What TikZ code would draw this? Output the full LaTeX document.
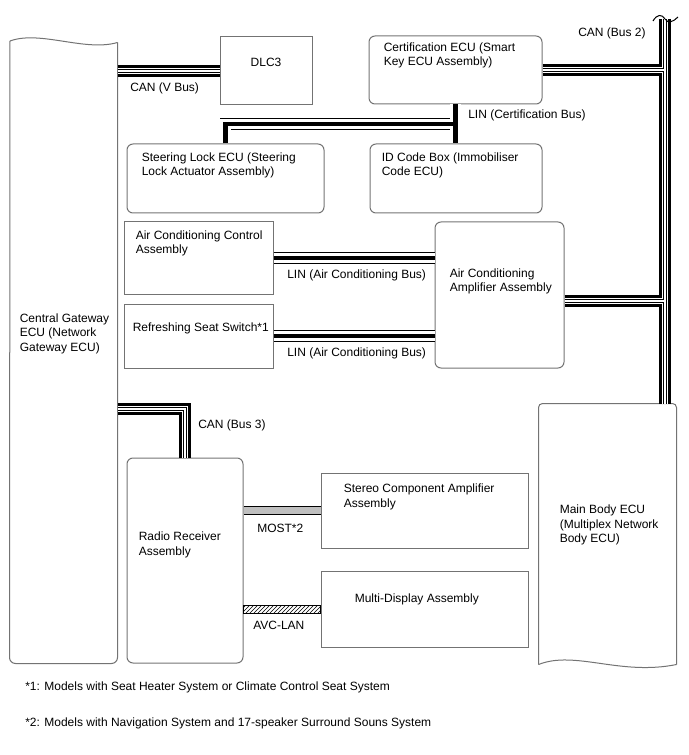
\documentclass[tikz,border=0pt]{standalone}
\usepackage{fontspec}
\setmainfont{Liberation Sans}
\usetikzlibrary{patterns}

\def\px{0.75pt}

\begin{document}
\begin{tikzpicture}[
x=\px, y=-\px,
ecu/.style={draw=black!55, line width=\px},
box/.style 2 args={ecu, minimum width=#1*\px, minimum height=#2*\px, inner sep=0},
rbox/.style 2 args={box={#1}{#2}, rounded corners=6*\px},
txt/.style={font=\fontsize{9pt}{10.9pt}\selectfont, inner sep=0, align=left},
lbl/.style={txt, anchor=west},
canbus/.style={draw=white, line width=2.3*\px,
	preaction={draw=black, line width=12.5*\px},
	preaction={draw=white, line width=5.7*\px},
	preaction={draw=black, line width=3.7*\px}},
linbus/.style={draw=black, line width=4.5*\px,
	preaction={draw=black, line width=11.5*\px},
	preaction={draw=white, line width=10.1*\px}},
most/.style={draw=black!25, line width=6.5*\px,
	preaction={draw=black, line width=9*\px}},
avc/.style={draw=black, line width=\px, pattern=north east lines}
]

\useasboundingbox (0,0) rectangle (688,755);

%%% ECUs
\node[box={107}{620}, draw=none] (cgw) at (63.5,353) {};
\draw[ecu, rounded corners=6*\px] (10,41) -- (cgw.south west) -- (cgw.south east) -- (cgw.north east);
\draw[ecu] (10,41) .. controls (40,30) and (85,52) .. (cgw.north east);
\node[txt, anchor=north west] (cgwT) at ([shift={(10,271)}]cgw.north west) {Central Gateway\\ECU (Network\\Gateway ECU)};

\node[box={137}{260}, draw=none] (mb) at (607.5,534) {};
\draw[ecu, rounded corners=4*\px] (mb.south west) -- (mb.north west) -- (mb.north east) -- (mb.south east);
\draw[ecu] (mb.south west) .. controls (575,650) and (620,676) .. (mb.south east);
\node[txt, anchor=north west] (mbT) at ([shift={(21,101)}]mb.north west) {Main Body ECU\\(Multiplex Network\\Body ECU)};

\node[box={92}{68}] (dlc) at (266,71) {};
\node[txt] (dlcT) at ([shift={(0,26)}]dlc.north) {DLC3};

\node[rbox={173}{68}] (cert) at (455.5,70) {};
\node[txt, anchor=north west] (certT) at ([shift={(15,7)}]cert.north west) {Certification ECU (Smart\\Key ECU Assembly)};

\node[rbox={172}{69}] (idb) at (456,178.5) {};
\node[txt, anchor=north west] (idbT) at ([shift={(12,9)}]idb.north west) {ID Code Box (Immobiliser\\Code ECU)};

\node[rbox={197}{69}] (slk) at (225.5,178.5) {};
\node[txt, anchor=north west] (slkT) at ([shift={(15,9)}]slk.north west) {Steering Lock ECU (Steering\\Lock Actuator Assembly)};

\node[box={149}{72}] (acc) at (198.5,258) {};
\node[txt, anchor=north west] (accT) at ([shift={(12,9)}]acc.north west) {Air Conditioning Control\\Assembly};

\node[box={149}{64}] (rss) at (198.5,336) {};
\node[lbl] (rssT) at ([shift={(9,-8)}]rss.west) {Refreshing Seat Switch*1};

\node[rbox={129}{146}] (amp) at (499.5,295) {};
\node[txt, anchor=north west] (ampT) at ([shift={(15,47)}]amp.north west) {Air Conditioning\\Amplifier Assembly};

\node[rbox={116}{205}] (radio) at (185,560.5) {};
\node[txt, anchor=north west] (radioT) at ([shift={(12,74)}]radio.north west) {Radio Receiver\\Assembly};

\node[box={207}{75}] (sca) at (424.5,510.5) {};
\node[txt, anchor=north west] (scaT) at ([shift={(23,11)}]sca.north west) {Stereo Component Amplifier\\Assembly};

\node[box={207}{76}] (mda) at (424.5,609) {};
\node[lbl] (mdaT) at ([shift={(34,-10)}]mda.west) {Multi-Display Assembly};

%%% CAN (V Bus)
\draw[canbus] (cgw.east |- dlc.west) -- (dlc.west);
\node[lbl] (canvT) at (130,88) {CAN (V Bus)};

%%% CAN (Bus 2)
\coordinate (b2top) at (665,19);
\coordinate (ampc) at ([shift={(0,6)}]amp.east);
\draw[canbus] (b2top) -- (b2top |- mb.north) (cert.east) -- (cert.east -| b2top) (ampc) -- (ampc -| b2top);
\draw[line width=\px] (653,21) .. controls (657,14) and (662,14) .. (665,19) .. controls (668,24) and (673,22) .. (678,17);
\node[lbl] (can2T) at (578,33) {CAN (Bus 2)};

%%% CAN (Bus 3)
\coordinate (b3) at (0,409);
\draw[canbus] (cgw.east |- b3) -| (radio.north);
\node[lbl] (can3T) at (198,425) {CAN (Bus 3)};

%%% LIN (Certification Bus)
\coordinate (lincb) at (cert.south |- 0,124);
\draw[linbus] (cert.south) -- (idb.north -| cert.south) (slk.north) |- (lincb);
\node[lbl] (lincT) at (468,115) {LIN (Certification Bus)};

%%% LIN (Air Conditioning Bus)
\draw[linbus] (acc.east) -- (acc.east -| amp.west);
\draw[linbus] (rss.east) -- (rss.east -| amp.west);
\node[lbl] (linac1T) at (287,275) {LIN (Air Conditioning Bus)};
\node[lbl] (linac2T) at (287,353) {LIN (Air Conditioning Bus)};

%%% MOST, AVC-LAN
\draw[most] (radio.east |- sca.west) -- (sca.west);
\node[lbl] (mostT) at (257,528) {MOST*2};
\coordinate (avcL) at (radio.east |- mda.west);
\draw[avc] ([shift={(0,-4)}]avcL) rectangle ([shift={(0,4)}]mda.west);
\node[lbl] (avcT) at (253,625) {AVC-LAN};

%%% Notes
\node[lbl] (fn1) at (25,687) {*1: Models with Seat Heater System or Climate Control Seat System};
\node[lbl] (fn2) at (25,723) {*2: Models with Navigation System and 17-speaker Surround Souns System};

\end{tikzpicture}
\end{document}
